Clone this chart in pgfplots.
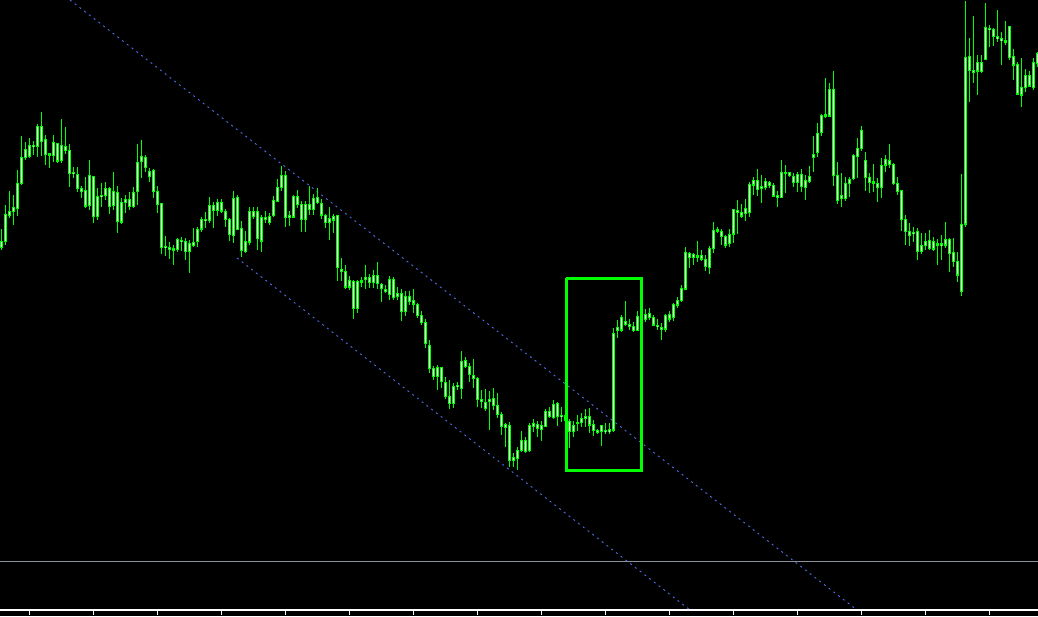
\documentclass[border=0pt]{standalone}
\usepackage{pgfplots}
\usepackage{pgfplotstable}
\pgfplotsset{compat=1.18}
\definecolor{cgreen}{RGB}{0,255,0}
\definecolor{cbody}{RGB}{235,255,235}
\definecolor{cblue}{RGB}{80,110,230}
\definecolor{cgrey}{RGB}{140,146,156}
% x, high, body top, body bottom, low  (screen units, y grows downward)
\pgfplotstableread{
x hi bt bb lo
1.3 229 241 247.3 250
5.3 205 214.3 241.3 245
9.3 191 211.3 215.7 217.7
13.3 195 207.3 211.3 225
17.3 170 183.3 208.7 215.7
21.3 136.3 157.3 183.3 184.7
25.3 142.3 149.3 157.3 160
29.3 138.3 145.3 156.7 158.3
33.3 141.3 145 146.7 155
37.3 124 126 146.7 156.7
41.3 112 126 141.7 155.7
45.3 135 139.3 154.7 165
49.3 154 154 154.7 167.7
53.3 135 142.3 155.7 162
57.3 142.7 143.3 161 163
61.3 119 145.3 160.3 163
65.3 127 146.7 150.3 154.3
69.3 144 150.3 173.3 186.7
73.3 167 172 173.7 177.7
77.3 167 174.3 188.7 192
81.3 186 188.3 191.7 198
85.3 177 190.3 206 208
89.3 160 175.3 205.7 210
93.3 176.3 176.3 216.7 222.7
97.3 188.3 196.7 216.7 220
101.3 183.3 195.3 196.7 206.7
105.3 182 188.3 195.7 200
109.3 187 188.3 206.7 214
113.3 172 191.3 205.7 210
117.3 186 192.3 221.7 232.7
121.3 197.7 202.3 222 224
125.3 195 199 202.7 213.3
129.3 191.7 199.3 206.7 210
133.3 187 192 206.7 207.7
137.3 144 162.3 191.7 204.7
141.3 140 156 161.7 177.7
145.3 155 157 167.7 172.3
149.3 167.7 171 176.7 181.7
153.3 169 170 191.7 198
157.3 186 191.3 204.3 212.7
161.3 203 203 247.7 254
165.3 236.3 246 247.7 256
169.3 241.7 247 249.3 259
173.3 245.3 249 250 265
177.3 238.3 239.7 249.3 252.3
181.3 236.7 240 241.7 250.7
185.3 238.3 241 251.7 260
189.3 240 243 251.3 273.3
193.3 228 242 245 247
197.3 227.3 229 241.7 246.7
201.3 217.3 219 229 231.7
205.3 212 219 220.7 228.3
209.3 197.3 205.3 220.7 222.7
213.3 201.7 205.3 210.7 228
217.3 199.3 202 210.7 215.7
221.3 199.3 202.3 211 213.3
225.3 209 211 219.3 226.7
229.3 217.7 219.3 234.3 240.7
233.3 191 198.3 235.7 243.3
237.3 194.7 197.7 229.3 230
241.3 221 228.7 250.3 256.7
245.3 231 241.3 251.7 253.3
249.3 207 211.3 242 245
253.3 207.3 211.3 216.7 219.3
257.3 206.7 211 238.3 250
261.3 214.7 217.3 241 252.3
265.3 210.7 217.3 219.3 223.3
269.3 213.3 216.3 222.7 225
273.3 195.7 200.3 215.7 216.7
277.3 179.3 187.3 201.7 201.7
281.3 166 175.3 187.3 190.7
285.3 170.7 175.3 217.3 226.7
289.3 210.7 215 217.3 225.7
293.3 195 196.3 217 218.3
297.3 190 196.3 204.7 207.7
301.3 201.3 204.3 219.7 231.7
305.3 201 204.3 219.7 231.7
309.3 186 204.3 209.3 215
313.3 193.7 198.7 209.3 215.3
317.3 188 197.7 202.7 204.3
321.3 199.3 203.3 215 219.3
325.3 214.3 215.3 222.7 228.3
329.3 207.3 218.3 222.7 240.3
333.3 214 216.3 220 233.3
337.3 215 215.3 267.7 280.7
341.3 258.3 269.3 271.3 280.7
345.3 265.3 271.3 287 289.3
349.3 275.7 280.3 287 290.3
353.3 280 281.3 308.7 318.7
357.3 280 281 308.7 313.3
361.3 276.7 281.3 281.7 287
365.3 265.3 277.3 279.3 289
369.3 274 277.3 282.7 288.3
373.3 270 275.3 282.7 288.3
377.3 262 275.3 283.7 289
381.3 283 284.7 288.7 301.7
385.3 284.7 289 291.7 293.3
389.3 276 279 294.7 300.3
393.3 276.7 279.3 297.7 300
397.3 287.3 293.3 296.7 300
401.3 289 293.3 311.7 320.7
405.3 291 296 311.7 315.7
409.3 291 296 301.7 305
413.3 289 300 304 312.7
417.3 302.7 304 315.7 318.3
421.3 311 315.3 322.7 325.3
425.3 319.3 322 343.3 348
429.3 340 345.3 368.7 373.3
433.3 366 368 376.7 380
437.3 365 367.3 376.7 390
441.3 367.3 367.3 381.7 388.3
445.3 376.7 382 396.7 398.7
449.3 380 396 403.3 408.7
453.3 383.3 386 403.3 408
457.3 381.7 385 386.7 390
461.3 351 361 388.7 398.7
465.3 357.3 360 366.7 368.3
469.3 363.3 366 374.7 381.7
473.3 359 375.3 378.7 387.7
477.3 376.7 378 399.7 406.7
481.3 390 399 401.3 408.3
485.3 389 402 408.7 411
489.3 391 399 401.7 429.7
493.3 388 398 405.7 410
497.3 393 405.3 414.7 418.3
501.3 412 414.3 426.3 435
505.3 423 424.7 427.7 446.7
509.3 422.3 425.3 460.7 466.7
513.3 453.3 457.7 460.7 466.7
517.3 446.7 450 458.3 470
521.3 431 440 450.7 451.7
525.3 437.3 440 451.7 453.3
529.3 423.3 425 450.7 451.7
533.3 419.3 423.3 426 431.7
537.3 420.7 424 428.3 436.7
541.3 421 425 429.3 440.7
545.3 409.3 411 426.7 427.3
549.3 406.7 411 416.7 418.3
553.3 400 404.3 417.3 418.7
557.3 401.7 403.3 416.7 425.7
561.3 407.3 415.3 416.7 421.7
565.3 412 415 420 428
569.3 419.3 421.3 431.3 448.3
573.3 420.7 425 431.7 436.7
577.3 415 422.3 423.3 430.7
581.3 413.3 418.3 422.7 426.7
585.3 409.3 416 418.3 427.3
589.3 408.3 416 425 432.7
593.3 420 424.3 430.7 435.7
597.3 429 430.7 432 433.7
601.3 425 425.3 431.7 445.7
605.3 422.7 430 431.7 434.3
609.3 423.3 429.3 431.7 434
613.3 328.3 333.3 430 431.7
617.3 320 327.7 330.7 337.7
621.3 315 317.3 330 331.7
625.3 301 321.3 324.7 326
629.3 319.3 324 326.7 330
633.3 322 326 330.7 332
637.3 310.7 316 330.3 331.3
641.3 312 315 320 324
645.3 309.3 314 319.3 321.7
649.3 308.3 313.3 317.5 320
653.3 315 317.3 325 325.5
657.3 319.3 325 326.7 330
661.3 323.3 327.3 329 340
665.3 314 315.3 329 331.7
669.3 311 314 319 321.7
673.3 302.7 304 317.7 320.7
677.3 296.7 300 305 308.3
681.3 285 288.3 300.7 301.7
685.3 247.3 252.3 289 290
689.3 251.7 253 257.7 267.7
693.3 252.7 254.3 257.7 265
697.3 241 256 256.7 261.7
701.3 250 255.7 259 260.7
705.3 255 259.3 266.7 271
709.3 246 248.3 267.7 274
713.3 222 230.3 248.7 252.7
717.3 227.3 230.3 231 233.3
721.3 229.3 231 236.7 245
725.3 235 236 245 247.7
729.3 229 234 243.3 247.3
733.3 208.7 209.3 234 242.7
737.3 200 210 212.7 234
741.3 204 212.3 216 217.7
745.3 199.3 208.3 213.3 220.7
749.3 182 184 212.7 216.7
753.3 177.3 180 185 195.3
757.3 169.3 180 189.3 195.7
761.3 175 186 188.7 202.7
765.3 178.3 181.7 187.7 190
769.3 180.7 182.3 185.7 188.3
773.3 183.3 185.3 196 196.7
777.3 190.7 195 197.7 206.7
781.3 160 172.3 197.7 198.3
785.3 165 172.3 173.3 193.3
789.3 171.7 172.3 175 177.3
793.3 173.3 176 182.3 187.3
797.3 171.7 174.3 182.7 191.7
801.3 169.3 174.3 186.7 191.7
805.3 175 180 187.3 200
809.3 166 176.7 181.7 183.3
813.3 136 154 157.3 171.7
817.3 122.7 133.3 152.7 156.7
821.3 114 115 132.7 136
825.3 78.3 115 116 118.3
829.3 82.7 89.3 116 117.3
833.3 71 89.3 175.7 186
837.3 161.7 175 200.7 204
841.3 172.7 195 198.3 206.7
845.3 176.7 183.3 198.3 200.7
849.3 177.3 179.3 183.3 196.7
853.3 154 155 178.3 180
857.3 138.3 148.3 156.7 178.3
861.3 126 130 148.3 150.7
865.3 152 160 177.3 190.7
869.3 173.3 177.3 182.7 192.7
873.3 164 182 182.7 191.7
877.3 178.3 183.3 187.3 201.7
881.3 158.3 165 187.3 198.3
885.3 155 159.3 165 171.7
889.3 144 160 164.3 168.3
893.3 162.7 164.3 183.3 185
897.3 176.7 183.3 191.7 195
901.3 190 190.7 219.3 230.7
905.3 215 219.3 231.7 245
909.3 223.3 231.7 235.7 246
913.3 226.7 232.3 233.7 241.7
917.3 228.3 231.7 251.7 260
921.3 233.3 245 251.7 254
925.3 233.3 241 245.3 250
929.3 230 240.3 248.3 250
933.3 236.7 241 249 250.7
937.3 239.3 244 244.7 265
941.3 235 244 245.3 260
945.3 222.3 239.3 245 248.3
949.3 238.3 239.3 253.3 271.7
953.3 238.3 252.3 261.7 266.7
957.3 252.3 261 275 281.7
961.3 174.3 224.3 291.7 296
965.3 1 57.3 224 226.7
969.3 38.3 56.7 70.7 101.7
973.3 16 70 72.3 82.7
977.3 55 62.3 71 95
981.3 55 62.3 71.3 73.3
985.3 3.3 27.3 59.3 60
989.3 25 28.3 29.7 46.7
993.3 28 29.7 36.7 46
997.3 10 36.3 38.7 41.7
1001.3 31.7 38.3 40.7 65
1005.3 21 41 42 45
1009.3 26 26.3 57.3 60
1013.3 49 56.7 65 80
1017.3 61.7 64 94 95
1021.3 58.3 87.3 95 106.7
1025.3 69.3 75.7 87.3 91.7
1029.3 71 75.3 86 87.3
1033.3 58.3 62.3 87.7 90
1037.3 51.7 53.3 63.3 66.7
}\candles
\begin{document}
\begin{tikzpicture}
\begin{axis}[
  width=1038pt, height=616pt, scale only axis,
  xmin=0, xmax=1038, ymin=0, ymax=616, y dir=reverse,
  axis line style={draw=none}, ticks=none,
  axis background/.style={fill=black},
  clip=true,
]
% grey separator and bottom time axis
\addplot[cgrey, line width=1pt] coordinates {(0,561) (1038,561)};
\addplot[white, line width=1.2pt] coordinates {(0,610) (1038,610)};
\addplot[draw=none, mark=none,
  error bars/.cd, y dir=plus, y fixed=5, error mark=none,
  error bar style={draw=white, line width=1pt}]
  coordinates {(29,610) (93,610) (157,610) (221,610) (285,610) (349,610) (413,610) (477,610) (541,610) (605,610) (669,610) (733,610) (797,610) (861,610) (925,610) (989,610)};
% channel lines
\addplot[cblue, line width=0.9pt, dash pattern=on 2pt off 4pt] coordinates {(70,0) (857,610)};
\addplot[cblue, line width=0.9pt, dash pattern=on 2pt off 4pt] coordinates {(237,258) (690,610)};
% wicks
\addplot[draw=none, mark=none,
  error bars/.cd, y dir=both, y explicit, error mark=none,
  error bar style={draw=cgreen, line width=1pt, solid}]
  table[x=x, y=bt,
    y error plus expr=\thisrow{lo}-\thisrow{bt},
    y error minus expr=\thisrow{bt}-\thisrow{hi}] {\candles};
% body outline
\addplot[draw=none, mark=none,
  error bars/.cd, y dir=both, y explicit, error mark=none,
  error bar style={draw=cgreen, line width=3.6pt, solid}]
  table[x=x, y expr=(\thisrow{bt}+\thisrow{bb})/2,
    y error expr={max((\thisrow{bb}-\thisrow{bt})/2+0.5,1.2)}] {\candles};
% body fill
\addplot[draw=none, mark=none,
  error bars/.cd, y dir=both, y explicit, error mark=none,
  error bar style={draw=cbody, line width=1.4pt, solid}]
  table[x=x, y expr=(\thisrow{bt}+\thisrow{bb})/2,
    y error expr={max((\thisrow{bb}-\thisrow{bt})/2-0.6,0)}] {\candles};
% highlight box
\addplot[cgreen, line width=3pt, line join=miter] coordinates {(566,278) (641,278) (641,470) (566,470) (566,278)};
\end{axis}
\end{tikzpicture}
\end{document}
